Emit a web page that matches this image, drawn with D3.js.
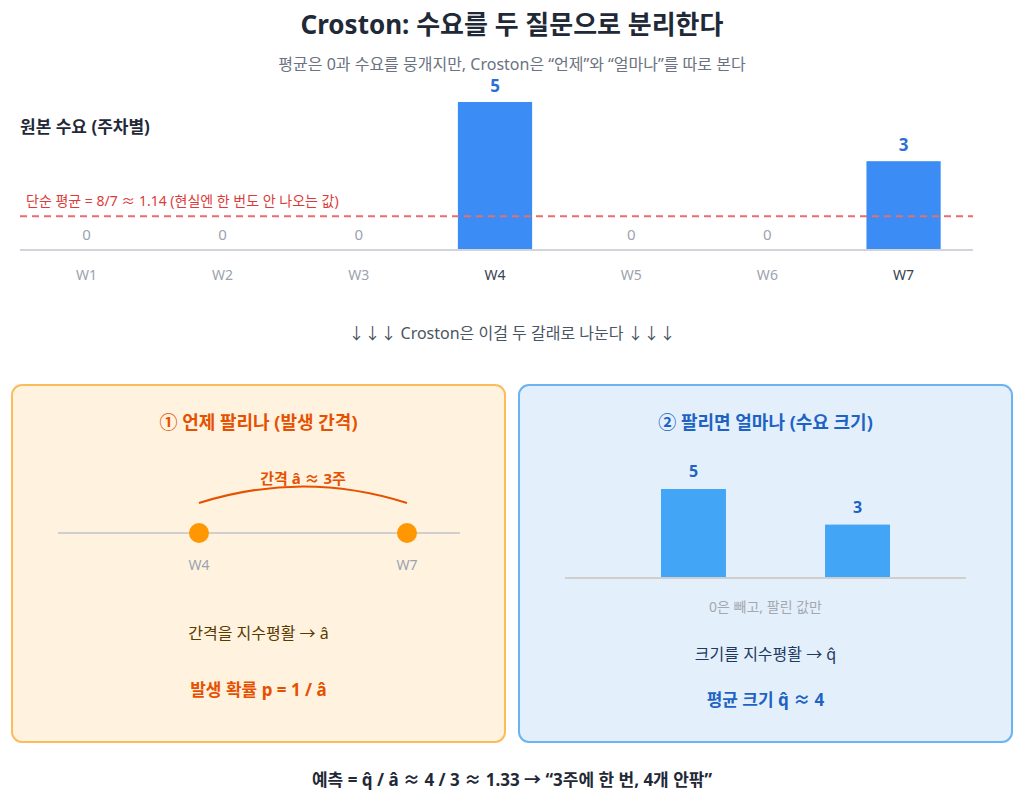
<!DOCTYPE html>
<html><head><meta charset="utf-8">
<script src="https://cdn.jsdelivr.net/npm/d3@7"></script>
<style>body{margin:0;background:#fff}text{font-family:"Noto Sans","Noto Sans CJK KR",sans-serif}</style>
</head><body><div id="chart"></div>
<script>
const weeks = ['W1','W2','W3','W4','W5','W6','W7'];
const demand = [0,0,0,5,0,0,3];
const meanValue = 8/7;
const saleWeeks = [4,7];
const saleSizes = [5,3];

const w = 1024, h = 804;
const svg = d3.select('#chart').append('svg').attr('width', w).attr('height', h);
const dark = '#1f2937';

svg.append('text').attr('x', w/2).attr('y', 34).attr('text-anchor','middle')
  .attr('font-size', 26).attr('font-weight', 700).attr('fill', dark).text('Croston: 수요를 두 질문으로 분리한다');
svg.append('text').attr('x', w/2).attr('y', 70).attr('text-anchor','middle')
  .attr('font-size', 16).attr('fill', '#6b7280').text('평균은 0과 수요를 뭉개지만, Croston은 “언제”와 “얼마나”를 따로 본다');
svg.append('text').attr('x', 20).attr('y', 133).attr('font-size', 17).attr('font-weight', 700)
  .attr('fill', dark).text('원본 수요 (주차별)');

// Top chart
const x = d3.scaleBand().domain(weeks).range([18, 972]).paddingInner(0.455).paddingOuter(0.23);
const y = d3.scaleLinear().domain([0, 5]).range([250, 102]);

svg.selectAll('rect.top').data(demand).enter().append('rect')
  .attr('x', (d,i) => x(weeks[i])).attr('width', x.bandwidth())
  .attr('y', d => y(d)).attr('height', d => y(0) - y(d)).attr('fill', '#3b8cf5');
svg.append('line').attr('x1', 20).attr('x2', 973).attr('y1', y(0)).attr('y2', y(0))
  .attr('stroke', '#d1d5db').attr('stroke-width', 2);
svg.selectAll('text.val').data(demand).enter().append('text')
  .attr('x', (d,i) => x(weeks[i]) + x.bandwidth()/2)
  .attr('y', d => d > 0 ? y(d) - 10 : y(0) - 10)
  .attr('text-anchor','middle').attr('font-size', d => d > 0 ? 17 : 15)
  .attr('font-weight', d => d > 0 ? 700 : 400)
  .attr('fill', d => d > 0 ? '#2b6fd6' : '#9ca3af').text(d => d);
svg.selectAll('text.wk').data(weeks).enter().append('text')
  .attr('x', d => x(d) + x.bandwidth()/2).attr('y', 280).attr('text-anchor','middle')
  .attr('font-size', 14).attr('fill', (d,i) => demand[i] > 0 ? '#374151' : '#9ca3af').text(d => d);
svg.append('line').attr('x1', 20).attr('x2', 973).attr('y1', y(meanValue)).attr('y2', y(meanValue))
  .attr('stroke', '#ec6b6b').attr('stroke-width', 2).attr('stroke-dasharray', '7,5');
svg.append('text').attr('x', 26).attr('y', y(meanValue) - 10).attr('font-size', 14).attr('fill', '#dc3b3b')
  .text('단순 평균 = 8/7 ≈ 1.14 (현실엔 한 번도 안 나오는 값)');

svg.append('text').attr('x', w/2).attr('y', 339).attr('text-anchor','middle').attr('font-size', 16)
  .attr('fill', '#4b5563').text('↓↓↓ Croston은 이걸 두 갈래로 나눈다 ↓↓↓');

// Panels
svg.append('rect').attr('x', 12).attr('y', 385).attr('width', 493).attr('height', 357).attr('rx', 10)
  .attr('fill', '#fff3e0').attr('stroke', '#fbbc5c').attr('stroke-width', 2);
svg.append('rect').attr('x', 519).attr('y', 385).attr('width', 493).attr('height', 357).attr('rx', 10)
  .attr('fill', '#e3f0fc').attr('stroke', '#6ab4f2').attr('stroke-width', 2);

// Left panel
const lc = 258.5;
svg.append('text').attr('x', lc).attr('y', 429).attr('text-anchor','middle').attr('font-size', 18)
  .attr('font-weight', 700).attr('fill', '#e65100').text('① 언제 팔리나 (발생 간격)');
const tx = d3.scaleLinear().domain([4, 7]).range([199, 407]);
svg.append('line').attr('x1', 58).attr('x2', 460).attr('y1', 533).attr('y2', 533)
  .attr('stroke', '#cfcfcf').attr('stroke-width', 2);
svg.append('path')
  .attr('d', `M${tx(4)},503 Q${(tx(4)+tx(7))/2},470 ${tx(7)},503`)
  .attr('fill', 'none').attr('stroke', '#e65100').attr('stroke-width', 2);
svg.append('text').attr('x', (tx(4)+tx(7))/2).attr('y', 484).attr('text-anchor','middle').attr('font-size', 15)
  .attr('font-weight', 700).attr('fill', '#e65100').text('간격 â ≈ 3주');
svg.selectAll('circle.s').data(saleWeeks).enter().append('circle')
  .attr('cx', d => tx(d)).attr('cy', 533).attr('r', 10).attr('fill', '#ff9800');
svg.selectAll('text.sw').data(saleWeeks).enter().append('text')
  .attr('x', d => tx(d)).attr('y', 570).attr('text-anchor','middle').attr('font-size', 14)
  .attr('fill', '#9ca3af').text(d => 'W' + d);
svg.append('text').attr('x', lc).attr('y', 639).attr('text-anchor','middle').attr('font-size', 16)
  .attr('fill', '#5b3a00').text('간격을 지수평활 → â');
svg.append('text').attr('x', lc).attr('y', 696).attr('text-anchor','middle').attr('font-size', 17)
  .attr('font-weight', 700).attr('fill', '#e65100').text('발생 확률 p = 1 / â');

// Right panel
const rc = 765.5;
svg.append('text').attr('x', rc).attr('y', 429).attr('text-anchor','middle').attr('font-size', 18)
  .attr('font-weight', 700).attr('fill', '#1e63c4').text('② 팔리면 얼마나 (수요 크기)');
const sx = d3.scaleBand().domain(saleSizes.map((d,i) => i)).range([661, 890]).paddingInner(0.604).paddingOuter(0);
const sy = d3.scaleLinear().domain([0, 5]).range([578, 489]);
svg.selectAll('rect.s').data(saleSizes).enter().append('rect')
  .attr('x', (d,i) => sx(i)).attr('width', sx.bandwidth()).attr('y', d => sy(d))
  .attr('height', d => sy(0) - sy(d)).attr('fill', '#42a5f5');
svg.append('line').attr('x1', 565).attr('x2', 966).attr('y1', 578).attr('y2', 578)
  .attr('stroke', '#cfcfcf').attr('stroke-width', 2);
svg.selectAll('text.sv').data(saleSizes).enter().append('text')
  .attr('x', (d,i) => sx(i) + sx.bandwidth()/2).attr('y', d => sy(d) - 12).attr('text-anchor','middle')
  .attr('font-size', 16).attr('font-weight', 700).attr('fill', '#1e63c4').text(d => d);
svg.append('text').attr('x', rc).attr('y', 612).attr('text-anchor','middle').attr('font-size', 14)
  .attr('fill', '#a3a8b0').text('0은 빼고, 팔린 값만');
svg.append('text').attr('x', rc).attr('y', 660).attr('text-anchor','middle').attr('font-size', 16)
  .attr('fill', '#1f3a5f').text('크기를 지수평활 → q̂');
svg.append('text').attr('x', rc).attr('y', 706).attr('text-anchor','middle').attr('font-size', 17)
  .attr('font-weight', 700).attr('fill', '#1e63c4').text('평균 크기 q̂ ≈ 4');

svg.append('text').attr('x', w/2).attr('y', 786).attr('text-anchor','middle').attr('font-size', 17)
  .attr('font-weight', 700).attr('fill', dark).text('예측 = q̂ / â ≈ 4 / 3 ≈ 1.33 → “3주에 한 번, 4개 안팎”');
</script></body></html>
